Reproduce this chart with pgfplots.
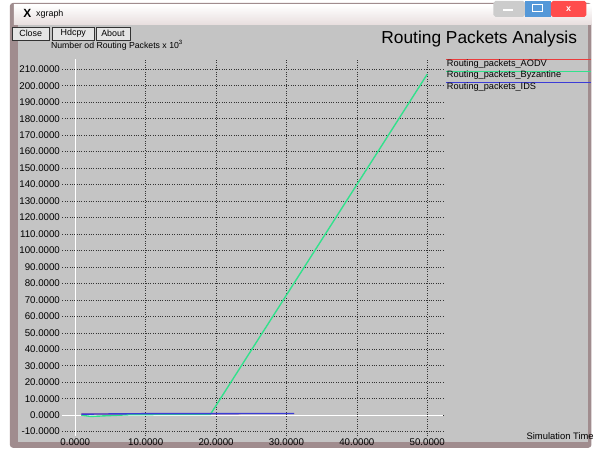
\documentclass[border=0pt]{standalone}
\usepackage{pgfplots}
\pgfplotsset{compat=1.18}
\usepackage{fontspec}
\setmainfont{Liberation Sans}
\definecolor{xgbg}{RGB}{196,196,196}
\definecolor{frame}{RGB}{160,140,142}
\definecolor{tbar}{RGB}{232,222,222}
\definecolor{xred}{RGB}{235,60,60}
\definecolor{xgreen}{RGB}{50,225,140}
\definecolor{xblue}{RGB}{60,60,215}
\begin{document}
\begin{tikzpicture}[x=1pt,y=1pt]
% window chrome (pixel coords, y measured from the top)
\fill[white] (0,0) rectangle (597,454);
\fill[frame, rounded corners=3pt] (10,{454-452}) rectangle (597,{454-3});
\shade[top color=white, bottom color=tbar] (14,{454-25}) rectangle (597,{454-5});
\fill[xgbg] (18,{454-446}) rectangle (594,{454-25});
% title bar
\node[anchor=west, font=\bfseries\large] at (20,{454-14}) {X};
\node[anchor=west, font=\small] at (33,{454-14}) {xgraph};
\fill[gray!40, rounded corners=2pt] (498,{454-17}) rectangle (530,{454-1});
\fill[cyan!60!blue!70] (530,{454-17}) rectangle (556,{454-1});
\fill[red!70, rounded corners=2pt] (556,{454-17}) rectangle (592,{454-1});
\draw[white, line width=1.5pt] (508,{454-10}) -- (518,{454-10});
\draw[white, line width=1pt] (538,{454-5}) rectangle (548,{454-12});
\node[white, font=\bfseries\small] at (574,{454-9}) {x};
% buttons
\draw[black!80, fill=gray!20] (12,{454-41}) rectangle (50,{454-27});
\node[font=\fontsize{9}{10}\selectfont] at (31,{454-34}) {Close};
\draw[black!80, fill=gray!20] (53,{454-41}) rectangle (95,{454-27});
\node[font=\fontsize{9}{10}\selectfont] at (74,{454-34}) {Hdcpy};
\draw[black!80, fill=gray!20] (97,{454-41}) rectangle (131,{454-27});
\node[font=\fontsize{9}{10}\selectfont] at (114,{454-34}) {About};
\node[anchor=west, font=\fontsize{8.8}{10}\selectfont] at (48,{454-46}) {Number od Routing Packets x 10$^{\mathrm{3}}$};
\node[anchor=east, font=\fontsize{17.5}{19}\selectfont] at (586,{454-39}) {Routing Packets Analysis};
\node[anchor=west, font=\fontsize{9.5}{10}\selectfont] at (528,{454-440}) {Simulation Time};
% legend
\fill[color=xred] (450,{454-59.3}) rectangle (597,{454-60.7});
\node[anchor=west, font=\fontsize{9.3}{10}\selectfont, inner sep=0pt] at (451,{454-64.5}) {Routing\_packets\_AODV};
\fill[color=xgreen] (450,{454-71.3}) rectangle (597,{454-72.7});
\node[anchor=west, font=\fontsize{9.3}{10}\selectfont, inner sep=0pt] at (451,{454-76}) {Routing\_packets\_Byzantine};
\fill[color=xblue] (450,{454-82.3}) rectangle (597,{454-83.7});
\node[anchor=west, font=\fontsize{9.3}{10}\selectfont, inner sep=0pt] at (451,{454-87.5}) {Routing\_packets\_IDS};
\begin{axis}[
    at={(63pt,14pt)}, anchor=south west,
    scale only axis,
    width=386pt, height=380pt,
    xmin=-1.83, xmax=52.5,
    ymin=-12.6, ymax=216,
    axis line style={draw=none},
    xtick={0,10,...,50},
    ytick={-10,0,...,210},
    major tick length=0pt,
    grid=major,
    major grid style={black!80, dotted, line width=0.6pt},
    tick label style={font=\fontsize{9.8}{10}\selectfont},
    /pgf/number format/assume math mode=true,
    /pgf/number format/.cd, fixed, fixed zerofill, precision=4, 1000 sep={},
    /pgfplots/.cd,
    yticklabel style={anchor=east, xshift=1pt},
    xticklabel style={yshift=1pt},
    clip=false
]
\draw[white, line width=0.8pt] (axis cs:0,-12.6) -- (axis cs:0,216);
\draw[white, line width=0.8pt] (axis cs:-1.83,0) -- (axis cs:52.3,0);
% AODV lies under the IDS line in the reference
\addplot[xred, line width=0.9pt] coordinates {(0.85,0.6) (10,0.9) (31.1,1.0)};
\addplot[xgreen, line width=1.4pt] coordinates {
    (0.85,0) (2.2,-0.8) (8,0.3) (19.2,0.5) (50,207)};
\addplot[xblue, line width=1.4pt] coordinates {(0.85,0.6) (10,0.9) (31.1,1.0)};
\end{axis}
\end{tikzpicture}
\end{document}
